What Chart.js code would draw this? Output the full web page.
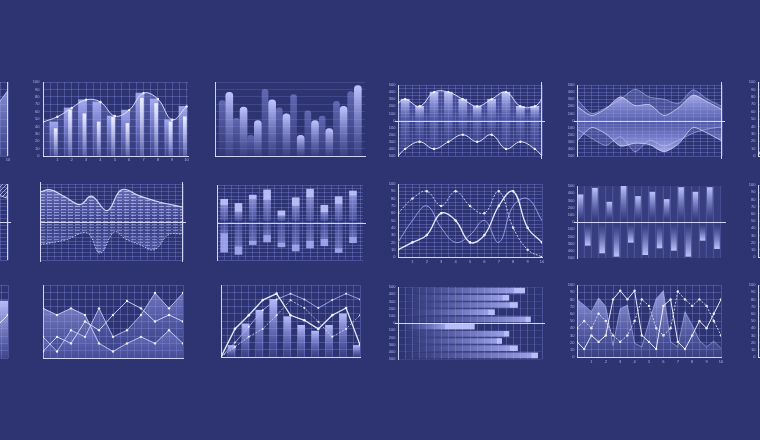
<!DOCTYPE html>
<html>
<head>
<meta charset="utf-8">
<title>Chart set</title>
<script src="https://cdn.jsdelivr.net/npm/chart.js@4.4.1/dist/chart.umd.min.js"></script>
<style>
  html, body { margin: 0; padding: 0; width: 760px; height: 440px; overflow: hidden; background: #2e3472; }
  body { position: relative; }
  canvas { position: absolute; }
</style>
</head>
<body>
<script>
// ---------- data ----------
// row 1
const l1_x = [8, 9, 10];
const l1_y = [45, 62, 89];

const p1_ticks = [1, 2, 3, 4, 5, 6, 7, 8, 9, 10];
const p1_lineX = [0, 1, 2, 3, 4, 5, 6, 7, 8, 9, 10];
const p1_line = [46, 53, 65, 76, 73, 54, 62, 85, 77, 49, 67];
const p1_wide = [46, 65, 76, 73, 54, 62, 85, 77, 49, 67];
const p1_thin = [37, 62, 57, 46, 52, 44, 78, 71, 46, 53];

const p2_ticks = [1, 2, 3, 4, 5, 6, 7, 8, 9, 10];
const p2_front = [86, 66, 48, 76, 57, 28, 48, 37, 67, 95];
const p2_back = [75, 51, 28, 90, 65, 83, 61, 54, 74, 87];

const p3_x = [0, 0.5, 1.5, 2.5, 3.5, 4.5, 5.5, 6.5, 7.5, 8.5, 9.5, 10];
const p3_top = [250, 300, 200, 400, 400, 300, 200, 300, 400, 200, 200, 300];
const p3_bottom = [-500, -400, -300, -400, -300, -200, -300, -200, -400, -300, -400, -500];

const p4_x = [0, 1, 2, 3, 4, 5, 6, 7, 8, 9, 10];
const p4_upFront = [200, 70, 167, 333, 210, 224, 70, 180, 357, 262, 152];
const p4_upBack = [300, 100, 180, 300, 440, 330, 300, 240, 430, 300, 200];
const p4_lowFront = [-290, -100, -190, -360, -320, -340, -440, -330, -100, -180, -290];
const p4_lowBack = [-120, -250, -350, -230, -440, -280, -360, -280, -180, -120, -90];

const r1_x = [0, 1];
const r1_y = [0, 38];

// row 2
const l2_x = [9, 10];
const l2_hi = [100, 100];
const l2_lo = [75, 62];

const p6_upX = [0, 0.7, 1.8, 2.8, 3.6, 4.7, 5.7, 7, 8.4, 10];
const p6_up = [79, 85, 65, 46, 68, 30, 85, 68, 52, 39];
const p6_lowX = [0, 1.8, 3.3, 4.2, 5.2, 6, 7, 8, 9, 10];
const p6_low = [-60, -47, -29, -82, -26, -45, -60, -73, -33, -32];

const p7_ticks = [1, 2, 3, 4, 5, 6, 7, 8, 9, 10];
const p7_up = [62, 51, 73, 87, 31, 66, 89, 46, 69, 84];
const p7_upMid = [48, 30, 64, 62, 20, 46, 69, 29, 51, 73];
const p7_down = [-79, -85, -59, -52, -65, -76, -68, -62, -80, -54];
const p7_downMid = [-30, -65, -50, -35, -55, -60, -50, -45, -70, -40];

const p8_x = [0, 1, 2, 3, 4, 5, 6, 7, 8, 9, 10];
const p8_dashed = [60, 80, 90, 70, 90, 70, 60, 90, 40, 10, 0];
const p8_bright = [10, 20, 30, 60, 50, 20, 30, 70, 90, 40, 20];
const p8_faint = [20, 50, 70, 40, 20, 30, 50, 20, 70, 80, 50];

const p9_ticks = [0, 1, 2, 3, 4, 5, 6, 7, 8, 9];
const p9_up = [378, 470, 276, 495, 355, 415, 313, 479, 415, 479];
const p9_down = [-324, -430, -477, -282, -454, -361, -394, -477, -255, -370];

// row 3
const l3_barX = [9.7];
const l3_bar = [78];
const l3_lineX = [9, 10];
const l3_line = [40, 59];

const p11_x = [0, 1, 2, 3, 4, 5, 6, 7, 8, 9, 10];
const p11_a = [68, 59, 68, 59, 20, 9, 20, 29, 20, 38, 20];
const p11_b = [29, 9, 38, 29, 68, 29, 38, 59, 89, 68, 89];
const p11_c = [9, 29, 20, 50, 38, 59, 78, 68, 50, 59, 50];

const p12_ticks = [1, 2, 3, 4, 5, 6, 7, 8, 9, 10];
const p12_bars = [16, 46, 65, 80, 56, 44, 36, 44, 60, 16];
const p12_x = [0, 1, 2, 3, 4, 5, 6, 7, 8, 9, 10];
const p12_bright = [0, 39, 58, 79, 88, 58, 51, 39, 58, 68, 17];
const p12_faint = [0, 20, 42, 65, 80, 88, 80, 68, 79, 88, 80];
const p12_dashed = [0, 14, 28, 39, 58, 79, 68, 49, 28, 39, 58];

const p13_rows = [450, 350, 250, 150, 50, -50, -150, -250, -350, -450];
const p13_end = [88, 77, 83, 67, 92, 53, 77, 72, 83, 97];
const p13_cap = [81, 73, 78, 63, 89, 33, 74, 69, 78, 93];

const p14_x = [0, 0.5, 1, 1.5, 2, 2.5, 3, 3.5, 4, 4.5, 5, 5.5, 6, 6.5, 7, 7.5, 8, 8.5, 9, 9.5, 10];
const p14_area = [80, 72, 63, 82, 70, 16, 67, 72, 19, 14, 49, 81, 92, 21, 14, 63, 44, 23, 14, 22, 12];
const p14_line = [21, 11, 30, 21, 30, 80, 92, 80, 92, 30, 21, 11, 71, 80, 21, 11, 30, 50, 40, 60, 80];
const p14_dashed = [40, 50, 40, 60, 50, 30, 21, 30, 50, 80, 71, 40, 30, 40, 91, 80, 71, 80, 71, 50, 30];

// ---------- styling ----------
const GRID = 'rgba(150,160,255,0.28)';
const AXIS = 'rgba(222,226,255,0.92)';
const TICK = 'rgba(196,201,245,0.85)';
const WHITE = 'rgba(242,244,255,0.95)';
const FONT = { family: 'Liberation Sans', size: 4 };
const PAD = 5;

const xy = (xs, ys) => ys.map((y, i) => ({ x: xs[i], y: y }));
const intLabel = v => (Number.isInteger(v) && v > 0) ? String(v) : '';
const absLabel = v => (v % 100 === 0) ? String(Math.abs(v)) : '';

const refLines = {
  id: 'refLines',
  afterDatasetsDraw(chart, args, o) {
    const { ctx, chartArea: a, scales } = chart;
    const ext = o.ext || 0, extV = o.extV || 0;
    ctx.save();
    ctx.strokeStyle = AXIS;
    ctx.lineWidth = 1;
    (o.y || []).forEach(v => {
      const y = Math.round(scales.y.getPixelForValue(v)) + 0.5;
      ctx.beginPath(); ctx.moveTo(a.left - ext, y); ctx.lineTo(a.right + ext, y); ctx.stroke();
    });
    (o.x || []).forEach(v => {
      const x = Math.round(scales.x.getPixelForValue(v)) - 0.5;
      ctx.beginPath(); ctx.moveTo(x, a.top - extV); ctx.lineTo(x, a.bottom + extV); ctx.stroke();
    });
    ctx.restore();
  }
};
Chart.register(refLines);

function axis(min, max, step, o) {
  o = o || {};
  return {
    type: 'linear', min: min, max: max, offset: false,
    afterFit: s => {
      if (s.isHorizontal()) s.height = o.size || 0; else s.width = o.size || 0;
      s.paddingLeft = s.paddingRight = s.paddingTop = s.paddingBottom = 0;
    },
    border: { display: !!o.border, color: AXIS, width: 1 },
    grid: { display: o.grid !== false, color: o.gridColor || GRID, lineWidth: 1, drawTicks: false, offset: false },
    ticks: {
      display: !!o.label, stepSize: step, includeBounds: false, autoSkip: false,
      maxRotation: 0, minRotation: 0, padding: o.pad == null ? 2.5 : o.pad,
      color: TICK, font: FONT, callback: o.label || (() => '')
    }
  };
}

function panel(b, type, datasets, scales, ref, extra) {
  const yw = b.yw || 0, xh = b.xh || 0;
  const w = (b.r - b.l) + yw + PAD;
  const h = (b.b - b.t) + xh + 2 * PAD;
  const cv = document.createElement('canvas');
  cv.width = w; cv.height = h;
  cv.style.left = (b.l - yw) + 'px';
  cv.style.top = (b.t - PAD) + 'px';
  cv.style.width = w + 'px';
  cv.style.height = h + 'px';
  document.body.appendChild(cv);
  const options = Object.assign({
    responsive: false, animation: false, events: [],
    layout: { padding: { top: PAD, right: PAD, bottom: PAD, left: 0 } },
    plugins: {
      legend: { display: false }, tooltip: { enabled: false },
      filler: { drawTime: 'beforeDatasetsDraw' }, refLines: ref || {}
    },
    scales: scales
  }, extra || {});
  return new Chart(cv, { type: type, data: { datasets: datasets }, options: options });
}

// gradient along a bar, from its far end (c1) to its base (c2)
function vGrad(c1, c2) {
  return ctx => {
    if (ctx.type !== 'data' || !ctx.chart.chartArea) return c1;
    const s = ctx.chart.scales.y, r = ctx.raw.y;
    const a = Array.isArray(r) ? r : [0, r];
    const p0 = s.getPixelForValue(a[0]), p1 = s.getPixelForValue(a[1]);
    if (!(Math.abs(p1 - p0) > 0.5)) return c1;
    const g = ctx.chart.ctx.createLinearGradient(0, p1, 0, p0);
    g.addColorStop(0, c1); g.addColorStop(1, c2);
    return g;
  };
}
function hGrad(c1, c2) {
  return ctx => {
    if (ctx.type !== 'data' || !ctx.chart.chartArea) return c1;
    const s = ctx.chart.scales.x, r = ctx.raw.x;
    const p0 = s.getPixelForValue(r[0]), p1 = s.getPixelForValue(r[1]);
    if (!(Math.abs(p1 - p0) > 0.5)) return c1;
    const g = ctx.chart.ctx.createLinearGradient(p1, 0, p0, 0);
    g.addColorStop(0, c1); g.addColorStop(1, c2);
    return g;
  };
}
function yGrad(v1, c1, v2, c2) {
  return ctx => {
    const ch = ctx.chart;
    if (!ch.chartArea) return c1;
    const s = ch.scales.y;
    const g = ch.ctx.createLinearGradient(0, s.getPixelForValue(v1), 0, s.getPixelForValue(v2));
    g.addColorStop(0, c1); g.addColorStop(1, c2);
    return g;
  };
}
function stripes(color) {
  const c = document.createElement('canvas'); c.width = 7; c.height = 3;
  const g = c.getContext('2d'); g.fillStyle = color; g.fillRect(0, 0, 5, 1);
  return g.createPattern(c, 'repeat');
}
function hatch(color) {
  const c = document.createElement('canvas'); c.width = 4; c.height = 4;
  const g = c.getContext('2d'); g.strokeStyle = color; g.lineWidth = 1;
  g.beginPath(); g.moveTo(-1, 5); g.lineTo(5, -1); g.stroke();
  return g.createPattern(c, 'repeat');
}

const line = (xs, ys, o) => Object.assign({
  type: 'line', data: xy(xs, ys), borderWidth: 1, tension: 0, fill: false,
  pointRadius: 0, pointBorderWidth: 0, pointBackgroundColor: WHITE
}, o);
const bar = (xs, ys, o) => Object.assign({ type: 'bar', data: xy(xs, ys), grouped: false, borderWidth: 0 }, o);

// ---------- row 1 ----------
panel({ l: -136, t: 82, r: 8, b: 156, xh: 8 }, 'line', [
  line(l1_x, l1_y, { borderColor: 'rgba(210,214,255,0.7)', fill: 'origin',
    backgroundColor: yGrad(100, 'rgba(185,190,255,0.75)', 0, 'rgba(130,136,225,0.2)') })
], {
  x: axis(0, 10, 0.5, { size: 8, pad: 1, label: v => v === 10 ? '10' : '' }),
  y: axis(0, 100, 10)
}, { x: [10], extV: 0 });

panel({ l: 43, t: 82, r: 188, b: 156, yw: 14, xh: 8 }, 'bar', [
  line(p1_lineX, p1_line, { borderColor: 'rgba(228,231,255,0.9)', tension: 0.4, pointRadius: 1.2,
    fill: 'origin', backgroundColor: yGrad(100, 'rgba(150,156,240,0.45)', 0, 'rgba(120,126,220,0.08)') }),
  bar(p1_ticks.map(c => c - 0.12), p1_thin, { barThickness: 3,
    backgroundColor: vGrad('rgba(240,242,255,0.95)', 'rgba(200,205,255,0.2)') }),
  bar(p1_ticks.map(c => c - 0.25), p1_wide, { barThickness: 8,
    backgroundColor: vGrad('rgba(178,183,252,0.85)', 'rgba(140,146,235,0.12)') })
], {
  x: axis(0, 10.1, 0.5, { size: 8, pad: 1, border: true, label: intLabel }),
  y: axis(0, 100, 10, { size: 14, pad: 3.5, border: true, label: v => String(v) })
});

panel({ l: 215, t: 82, r: 365, b: 156 }, 'bar', [
  bar(p2_ticks, p2_front, { barThickness: 7, borderRadius: 4,
    backgroundColor: vGrad('rgba(190,195,255,1)', 'rgba(150,156,240,0.12)') }),
  bar(p2_ticks.map(c => c - 0.5), p2_back, { barThickness: 6, borderRadius: 3,
    backgroundColor: vGrad('rgba(140,146,228,0.55)', 'rgba(130,136,220,0.05)') })
], {
  x: axis(0, 10.5, 1, { grid: false, border: true }),
  y: axis(0, 100, 10, { border: true, gridColor: 'rgba(150,160,255,0.18)' })
});

panel({ l: 398, t: 85, r: 542, b: 156, yw: 12 }, 'bar', [
  line(p3_x, p3_top, { borderColor: 'rgba(232,235,255,0.95)', tension: 0.4, pointRadius: 1.2,
    fill: 'origin', backgroundColor: 'rgba(130,140,232,0.28)' }),
  line(p3_x, p3_bottom, { borderColor: 'rgba(232,235,255,0.95)', tension: 0.4, pointRadius: 1.2,
    fill: 'origin', backgroundColor: 'rgba(130,140,232,0.12)' }),
  bar(p3_x.slice(1, 11), p3_top.slice(1, 11), { barThickness: 8,
    backgroundColor: vGrad('rgba(205,210,255,0.9)', 'rgba(150,156,240,0.1)') }),
  bar(p3_x.slice(1, 11), p3_bottom.slice(1, 11), { barThickness: 8,
    backgroundColor: vGrad('rgba(150,156,240,0.05)', 'rgba(160,166,245,0.35)') })
], {
  x: axis(0, 10, 0.5),
  y: axis(-500, 500, 50, { size: 12, border: true, label: absLabel })
}, { y: [0], x: [10], ext: 3, extV: 3 });

panel({ l: 577, t: 85, r: 722, b: 156, yw: 12 }, 'line', [
  line(p4_x, p4_upFront, { borderColor: 'rgba(222,226,255,0.7)', tension: 0.25, fill: 'origin',
    backgroundColor: yGrad(400, 'rgba(195,200,255,0.85)', 0, 'rgba(130,136,225,0.3)') }),
  line(p4_x, p4_lowFront, { borderColor: 'rgba(222,226,255,0.7)', tension: 0.25, fill: 'origin',
    backgroundColor: yGrad(0, 'rgba(120,126,220,0.2)', -450, 'rgba(190,195,255,0.85)') }),
  line(p4_x, p4_upBack, { borderColor: 'rgba(200,205,255,0.5)', tension: 0.25, fill: 'origin',
    backgroundColor: 'rgba(150,156,238,0.3)' }),
  line(p4_x, p4_lowBack, { borderColor: 'rgba(200,205,255,0.5)', tension: 0.25, fill: 'origin',
    backgroundColor: 'rgba(150,156,238,0.28)' })
], {
  x: axis(0, 10, 0.5),
  y: axis(-500, 500, 50, { size: 12, border: true, label: absLabel })
}, { y: [0], x: [10], ext: 3, extV: 3 });

panel({ l: 758, t: 82, r: 900, b: 156, yw: 12 }, 'line', [
  line(r1_x, r1_y, { borderColor: WHITE })
], {
  x: axis(0, 10, 0.5, { border: true }),
  y: axis(0, 100, 10, { size: 12, border: true, label: v => String(v) })
});

// ---------- row 2 ----------
panel({ l: -136, t: 184, r: 8, b: 260 }, 'line', [
  line(l2_x, l2_hi, { borderWidth: 0, fill: '+1', backgroundColor: hatch('rgba(200,205,255,0.7)') }),
  line(l2_x, l2_lo, { borderColor: 'rgba(220,224,255,0.8)' })
], {
  x: axis(0, 10, 0.5),
  y: axis(-100, 100, 10)
}, { y: [0], x: [10], ext: 3 });

panel({ l: 40, t: 184, r: 183, b: 260 }, 'line', [
  line(p6_upX, p6_up, { borderColor: 'rgba(228,231,255,0.9)', borderWidth: 1.2, tension: 0.4,
    fill: 'origin', backgroundColor: stripes('rgba(210,214,255,0.55)') }),
  line(p6_upX, p6_up, { borderWidth: 0, tension: 0.4, fill: 'origin',
    backgroundColor: yGrad(100, 'rgba(160,166,245,0.55)', 0, 'rgba(120,126,220,0.18)') }),
  line(p6_lowX, p6_low, { borderColor: 'rgba(222,226,255,0.8)', borderDash: [1.5, 1.5], tension: 0.4,
    fill: 'origin', backgroundColor: stripes('rgba(195,200,255,0.45)') }),
  line(p6_lowX, p6_low, { borderWidth: 0, tension: 0.4, fill: 'origin',
    backgroundColor: yGrad(0, 'rgba(120,126,220,0.12)', -100, 'rgba(150,156,240,0.4)') })
], {
  x: axis(0, 10, 0.5),
  y: axis(-100, 100, 10)
}, { y: [0], x: [0.05, 10], ext: 3, extV: 2 });

panel({ l: 217, t: 185, r: 363, b: 260 }, 'bar', [
  bar(p7_ticks.map(c => c - 0.5), p7_upMid.map((m, i) => [m, p7_up[i]]), { barThickness: 7,
    backgroundColor: 'rgba(196,201,255,0.9)' }),
  bar(p7_ticks.map(c => c - 0.5), p7_upMid.map(m => [5, m]), { barThickness: 7,
    backgroundColor: vGrad('rgba(168,173,246,0.75)', 'rgba(140,146,230,0.3)') }),
  bar(p7_ticks.map(c => c - 0.5), p7_downMid.map((m, i) => [m, p7_down[i]]), { barThickness: 7,
    backgroundColor: 'rgba(172,177,250,0.85)' }),
  bar(p7_ticks.map(c => c - 0.5), p7_downMid.map(m => [-5, m]), { barThickness: 7,
    backgroundColor: vGrad('rgba(150,156,236,0.55)', 'rgba(140,146,230,0.28)') })
], {
  x: axis(0, 10.2, 0.5),
  y: axis(-100, 100, 10, { border: true })
}, { y: [0], ext: 3 });

panel({ l: 398, t: 184, r: 542, b: 257, yw: 12, xh: 7 }, 'line', [
  line(p8_x, p8_bright, { borderColor: WHITE, borderWidth: 1.3, tension: 0.4, pointRadius: 1.3 }),
  line(p8_x, p8_dashed, { borderColor: 'rgba(226,229,255,0.85)', borderDash: [2, 1.5], tension: 0.4, pointRadius: 1.2 }),
  line(p8_x, p8_faint, { borderColor: 'rgba(165,171,245,0.85)', tension: 0.4 })
], {
  x: axis(0, 10, 0.5, { size: 7, border: true, label: intLabel }),
  y: axis(0, 100, 5, { size: 12, border: true, label: v => v % 10 === 0 ? String(v) : '' })
});

panel({ l: 577, t: 186, r: 723, b: 258, yw: 12 }, 'bar', [
  bar(p9_ticks.map(c => c + 0.25), p9_up.map(v => [40, v]), { barThickness: 5,
    backgroundColor: vGrad('rgba(195,200,255,0.95)', 'rgba(150,156,240,0)') }),
  bar(p9_ticks.map(c => c + 0.75), p9_down.map(v => [-40, v]), { barThickness: 5,
    backgroundColor: vGrad('rgba(195,200,255,0.95)', 'rgba(150,156,240,0)') }),
  bar(p9_ticks.map(c => c + 0.25), p9_ticks.map(() => [-500, 500]), { barThickness: 8,
    backgroundColor: 'rgba(140,150,232,0.1)' }),
  bar(p9_ticks.map(c => c + 0.75), p9_ticks.map(() => [-500, 500]), { barThickness: 8,
    backgroundColor: 'rgba(140,150,232,0.1)' })
], {
  x: axis(0, 10.17, 0.5, { gridColor: 'rgba(150,160,255,0.16)' }),
  y: axis(-500, 500, 100, { size: 12, border: true, grid: false, label: absLabel })
}, { y: [0], ext: 3 });

panel({ l: 758, t: 185, r: 900, b: 257, yw: 12 }, 'line', [], {
  x: axis(0, 10, 0.5, { border: true }),
  y: axis(0, 100, 10, { size: 12, border: true, label: v => String(v) })
});

// ---------- row 3 ----------
panel({ l: -136, t: 285, r: 8, b: 358 }, 'bar', [
  line(l3_lineX, l3_line, { borderColor: WHITE, pointRadius: 1.3 }),
  bar(l3_barX, l3_bar, { barThickness: 9,
    backgroundColor: vGrad('rgba(190,195,255,0.95)', 'rgba(140,146,232,0.2)') })
], {
  x: axis(0, 10, 0.5),
  y: axis(0, 100, 10)
});

panel({ l: 39, t: 285, r: 183, b: 358 }, 'line', [
  line(p11_x, p11_c, { borderColor: 'rgba(226,229,255,0.85)', pointRadius: 1.2 }),
  line(p11_x, p11_b, { borderColor: 'rgba(215,220,255,0.75)', pointRadius: 1.2, fill: 'origin',
    backgroundColor: yGrad(100, 'rgba(168,173,250,0.6)', 0, 'rgba(120,126,220,0.15)') }),
  line(p11_x, p11_a, { borderColor: 'rgba(222,226,255,0.8)', pointRadius: 1.2, fill: 'origin',
    backgroundColor: yGrad(100, 'rgba(188,193,255,0.75)', 0, 'rgba(130,136,225,0.2)') })
], {
  x: axis(0, 10, 0.5, { border: true }),
  y: axis(0, 100, 10, { border: true })
});

panel({ l: 217, t: 285, r: 360, b: 357 }, 'bar', [
  line(p12_x, p12_bright, { borderColor: WHITE, borderWidth: 1.3, pointRadius: 1.3 }),
  line(p12_x, p12_faint, { borderColor: 'rgba(175,180,245,0.85)', pointRadius: 1 }),
  line(p12_x, p12_dashed, { borderColor: 'rgba(222,226,255,0.75)', borderDash: [2, 1.5], pointRadius: 1 }),
  bar(p12_ticks.map(c => c - 0.23), p12_bars, { barThickness: 7,
    backgroundColor: vGrad('rgba(188,193,255,0.95)', 'rgba(120,126,225,0.15)') })
], {
  x: axis(0, 10, 0.5, { border: true }),
  y: axis(0, 100, 10, { border: true })
});

panel({ l: 398, t: 287, r: 542, b: 359, yw: 12 }, 'bar', [
  { data: p13_rows.map((r, i) => ({ y: r, x: [p13_cap[i], p13_end[i]] })), grouped: false,
    barThickness: 5, borderWidth: 0, backgroundColor: 'rgba(192,197,255,0.95)' },
  { data: p13_rows.map((r, i) => ({ y: r, x: [3, p13_cap[i]] })), grouped: false,
    barThickness: 5, borderWidth: 0, backgroundColor: hGrad('rgba(175,180,250,0.85)', 'rgba(140,146,230,0)') }
], {
  x: axis(0, 100, 5),
  y: axis(-500, 500, 100, { size: 12, border: true, label: absLabel, gridColor: 'rgba(150,160,255,0.14)' })
}, { y: [0], ext: 3 }, { indexAxis: 'y' });

panel({ l: 577, t: 285, r: 721, b: 357, yw: 12, xh: 7 }, 'line', [
  line(p14_x, p14_line, { borderColor: WHITE, pointRadius: 1.2 }),
  line(p14_x, p14_dashed, { borderColor: 'rgba(226,229,255,0.85)', borderDash: [2, 1.5], pointRadius: 1.2 }),
  line(p14_x, p14_area, { borderColor: 'rgba(200,205,255,0.5)', fill: 'origin',
    backgroundColor: yGrad(100, 'rgba(188,193,255,0.8)', 0, 'rgba(130,136,225,0.15)') })
], {
  x: axis(0, 10, 0.5, { size: 7, border: true, label: intLabel }),
  y: axis(0, 100, 10, { size: 12, border: true, label: v => String(v) })
});

panel({ l: 758, t: 285, r: 900, b: 357, yw: 12 }, 'line', [], {
  x: axis(0, 10, 0.5, { border: true }),
  y: axis(0, 100, 10, { size: 12, border: true, label: v => String(v) })
});
</script>
</body>
</html>
